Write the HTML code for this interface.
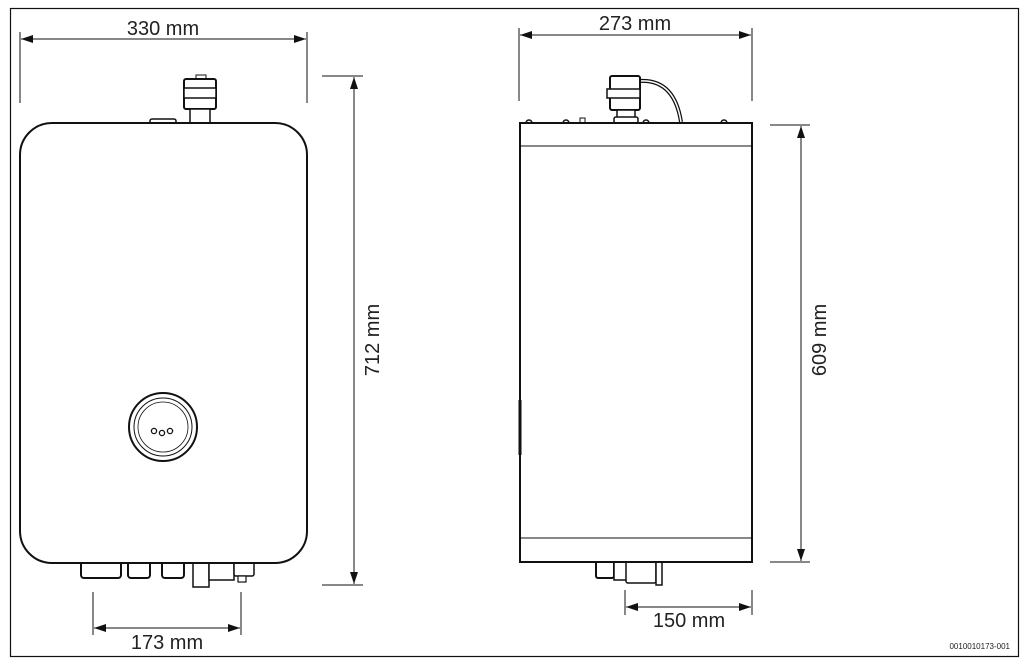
<!DOCTYPE html>
<html><head><style>
html,body{margin:0;padding:0;background:#fff;}
svg{display:block;}
text{font-family:"Liberation Sans",sans-serif;fill:#222;}
</style></head><body>
<svg width="1028" height="663" viewBox="0 0 1028 663" xmlns="http://www.w3.org/2000/svg">
<defs>
<marker id="a" viewBox="0 0 12 8" refX="12" refY="4" markerWidth="12" markerHeight="8" orient="auto-start-reverse" markerUnits="userSpaceOnUse"><path d="M0,0 L12,4 L0,8 z" fill="#111"/></marker>
</defs>
<rect x="10.5" y="8.5" width="1008" height="648" fill="none" stroke="#111" stroke-width="1.2"/>
<g stroke="#111" fill="none" stroke-width="1">
<line x1="20" y1="32" x2="20" y2="103"/><line x1="307" y1="32" x2="307" y2="103"/>
<line x1="21" y1="39" x2="306" y2="39" marker-start="url(#a)" marker-end="url(#a)"/>
<line x1="322" y1="76" x2="363" y2="76"/><line x1="322" y1="585" x2="363" y2="585"/>
<line x1="354" y1="77" x2="354" y2="584" marker-start="url(#a)" marker-end="url(#a)"/>
<line x1="93" y1="592" x2="93" y2="635"/><line x1="241" y1="592" x2="241" y2="635"/>
<line x1="94" y1="628" x2="240" y2="628" marker-start="url(#a)" marker-end="url(#a)"/>
<line x1="519" y1="28" x2="519" y2="101"/><line x1="752" y1="28" x2="752" y2="101"/>
<line x1="520" y1="35" x2="751" y2="35" marker-start="url(#a)" marker-end="url(#a)"/>
<line x1="770" y1="125" x2="810" y2="125"/><line x1="770" y1="562" x2="810" y2="562"/>
<line x1="801" y1="126" x2="801" y2="561" marker-start="url(#a)" marker-end="url(#a)"/>
<line x1="625" y1="590" x2="625" y2="615"/><line x1="752" y1="590" x2="752" y2="615"/>
<line x1="626" y1="607" x2="751" y2="607" marker-start="url(#a)" marker-end="url(#a)"/>
</g>
<g stroke="#111" fill="#fff" stroke-width="2">
<rect x="196" y="75" width="10" height="5" stroke-width="1"/>
<rect x="184" y="79" width="32" height="30" rx="2"/>
<rect x="184" y="88" width="32" height="10" stroke-width="1.5"/>
<rect x="190" y="109" width="20" height="14" stroke-width="1.5"/>
<rect x="150" y="119" width="26" height="5" rx="2" stroke-width="1.5"/>
<rect x="81" y="560" width="40" height="18" rx="3"/>
<rect x="128" y="560" width="22" height="18" rx="3"/>
<rect x="162" y="560" width="22" height="18" rx="3"/>
<rect x="193" y="560" width="16" height="27" stroke-width="1.5"/>
<rect x="209" y="560" width="25" height="20" stroke-width="1.5"/>
<rect x="234" y="560" width="20" height="16" rx="2" stroke-width="1.5"/>
<rect x="238" y="576" width="8" height="6" stroke-width="1.2"/>
<rect x="20" y="123" width="287" height="440" rx="32" ry="32"/>
</g>
<g stroke="#111" fill="none">
<circle cx="163" cy="427" r="34" stroke-width="2"/>
<circle cx="163" cy="427" r="29" stroke-width="1"/>
<circle cx="163" cy="427" r="25" stroke-width="0.8"/>
<circle cx="154" cy="431" r="2.6" stroke-width="1.3"/>
<circle cx="162" cy="433" r="2.6" stroke-width="1.3"/>
<circle cx="170" cy="431" r="2.6" stroke-width="1.3"/>
</g>
<g stroke="#111" fill="#fff" stroke-width="2">
<path d="M640,81 C660,80 676,90 681,122" fill="none" stroke-width="4"/>
<path d="M640,81 C660,80 676,90 681,122" fill="none" stroke="#fff" stroke-width="1.5"/>
<rect x="610" y="76" width="30" height="34" rx="2"/>
<rect x="607" y="89" width="33" height="9" stroke-width="1.5"/>
<rect x="617" y="110" width="18" height="10" stroke-width="1.5"/>
<rect x="614" y="117" width="24" height="6" rx="2" stroke-width="1.5"/>
<rect x="596" y="560" width="18" height="18" rx="2"/>
<rect x="614" y="560" width="22" height="20" stroke-width="1.5"/>
<rect x="626" y="560" width="30" height="23" rx="2" stroke-width="1.5"/>
<rect x="656" y="560" width="6" height="25" stroke-width="1.5"/>
<rect x="520" y="123" width="232" height="439"/>
</g>
<g stroke="#111" fill="none" stroke-width="1">
<line x1="521" y1="146" x2="751" y2="146"/>
<line x1="521" y1="538" x2="751" y2="538"/>
<line x1="520" y1="400" x2="520" y2="455" stroke-width="3"/>
<path d="M526,123 a3,3 0 0 1 6,0 M563,123 a3,3 0 0 1 6,0 M643,123 a3,3 0 0 1 6,0 M721,123 a3,3 0 0 1 6,0" stroke-width="1.5"/>
<rect x="580" y="118" width="5" height="5"/>
</g>
<text x="163" y="35" font-size="20" text-anchor="middle">330 mm</text>
<text x="635" y="30" font-size="20" text-anchor="middle">273 mm</text>
<text x="167" y="649" font-size="20" text-anchor="middle">173 mm</text>
<text x="689" y="627" font-size="20" text-anchor="middle">150 mm</text>
<text transform="translate(379,340) rotate(-90)" font-size="20" text-anchor="middle">712 mm</text>
<text transform="translate(826,340) rotate(-90)" font-size="20" text-anchor="middle">609 mm</text>
<text x="1010" y="649" font-size="8" text-anchor="end">0010010173-001</text>
</svg>
</body></html>
